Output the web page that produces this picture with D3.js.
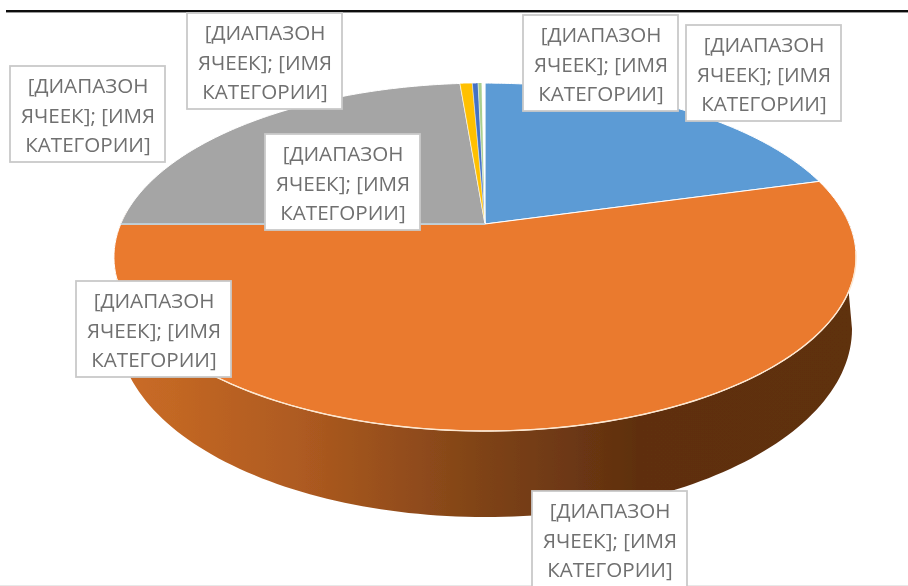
<html>
<head>
<meta charset="utf-8">
<script src="https://d3js.org/d3.v7.min.js"></script>
<style>
body { margin: 0; background: #fff; }
svg { display: block; }
text { font-family: "Open Sans", sans-serif; font-size: 20.6px; fill: #6f6f6f; }
</style>
</head>
<body>
<svg id="chart" width="908" height="586"></svg>
<script>
// values, percent of the whole pie
var categories = ["a", "b", "c", "d", "e", "f", "g"];
var values = [20.7, 54.3, 23.7, 0.64, 0.3, 0.2, 0.16];
var colors = ["#5b9bd5", "#ea7a2f", "#a5a5a5", "#ffc000", "#4472c4", "#a9cf8e", "#ffffff"];
var labelLines = ["[ДИАПАЗОН", "ЯЧЕЕК]; [ИМЯ", "КАТЕГОРИИ]"];
// left/top of the label box for each category
var labelBoxes = [[523, 15], [76, 281], [265, 134], [187, 13], [10, 66], [686, 25], [532, 491]];

var svg = d3.select("#chart");
var defs = svg.append("defs");

var blur = defs.append("filter").attr("id", "soft")
	.attr("filterUnits", "userSpaceOnUse")
	.attr("x", 0).attr("y", 0).attr("width", 908).attr("height", 586);
blur.append("feGaussianBlur").attr("stdDeviation", 0.75);

var wallFill = defs.append("linearGradient").attr("id", "wall")
	.attr("gradientUnits", "userSpaceOnUse")
	.attr("x1", 120).attr("x2", 860).attr("y1", 0).attr("y2", 0);
wallFill.append("stop").attr("offset", "0").attr("stop-color", "#cb6c26");
wallFill.append("stop").attr("offset", "0.25").attr("stop-color", "#ad5a20");
wallFill.append("stop").attr("offset", "0.5").attr("stop-color", "#7d4217");
wallFill.append("stop").attr("offset", "0.7").attr("stop-color", "#5f2f0f");
wallFill.append("stop").attr("offset", "1").attr("stop-color", "#5f300f");

var g = svg.append("g").attr("filter", "url(#soft)");

// top rule and faint bottom edge of the screenshot
g.append("rect").attr("x", 6).attr("y", 10).attr("width", 902).attr("height", 2.4).attr("fill", "#111");
g.append("rect").attr("x", 0).attr("y", 585).attr("width", 908).attr("height", 1).attr("fill", "#e8e8e8");

// tilted disc: perspective projection of the unit circle
var apex = [485, 224], persp = 0.19, radiusX = 364.3, radiusY = 167.7;
function project(u, v) {
	var w = 1 + persp * v;
	return [apex[0] + radiusX * u / w, apex[1] - radiusY * v / w];
}
function rim(a) { return project(Math.sin(a), Math.cos(a)); }

var line = d3.line();
var arcs = d3.pie().sort(null)(values);

function arcPoints(a0, a1) {
	return d3.range(0, 121).map(i => rim(a0 + (a1 - a0) * i / 120));
}

// side wall, only the front of the orange slice shows
var wallTop = arcPoints(Math.PI * 0.47, Math.PI * 1.53);
var wallBottom = d3.range(0, 121).map(i => {
	var t = Math.PI * i / 120;
	return [485 + 367 * Math.cos(t), 329 + 188 * Math.sin(t)];
}).reverse();
g.append("path")
	.attr("d", line(wallTop.concat(wallBottom)) + "Z")
	.attr("fill", "url(#wall)");

g.selectAll("path.slice")
	.data(arcs)
	.enter().append("path")
	.attr("class", "slice")
	.attr("d", d => line([apex].concat(arcPoints(d.startAngle, d.endAngle))) + "Z")
	.attr("fill", (d, i) => colors[i])
	.attr("stroke", "#fff")
	.attr("stroke-width", (d, i) => i > 2 ? 0.4 : 1);

// bluish seam between the gray and orange slices
g.append("path")
	.attr("d", line([rim(arcs[1].endAngle), apex]))
	.attr("fill", "none")
	.attr("stroke", "#b4cad6")
	.attr("stroke-width", 1.6);

// pale highlight along the front edge
g.append("path")
	.attr("d", line(arcPoints(Math.PI * 0.55, Math.PI * 1.4)))
	.attr("fill", "none")
	.attr("stroke", "#fde7cf")
	.attr("stroke-width", 1.4);

var labels = g.selectAll("g.label")
	.data(categories)
	.enter().append("g")
	.attr("class", "label")
	.attr("transform", (d, i) => `translate(${labelBoxes[i][0]},${labelBoxes[i][1]})`);

labels.append("rect")
	.attr("width", 155)
	.attr("height", 96)
	.attr("fill", "#fff")
	.attr("stroke", "#c9c9c9")
	.attr("stroke-width", 1.8);

labels.selectAll("text")
	.data(labelLines)
	.enter().append("text")
	.attr("x", 78)
	.attr("y", (d, i) => 27 + i * 29.5)
	.attr("text-anchor", "middle")
	.text(d => d);
</script>
</body>
</html>
